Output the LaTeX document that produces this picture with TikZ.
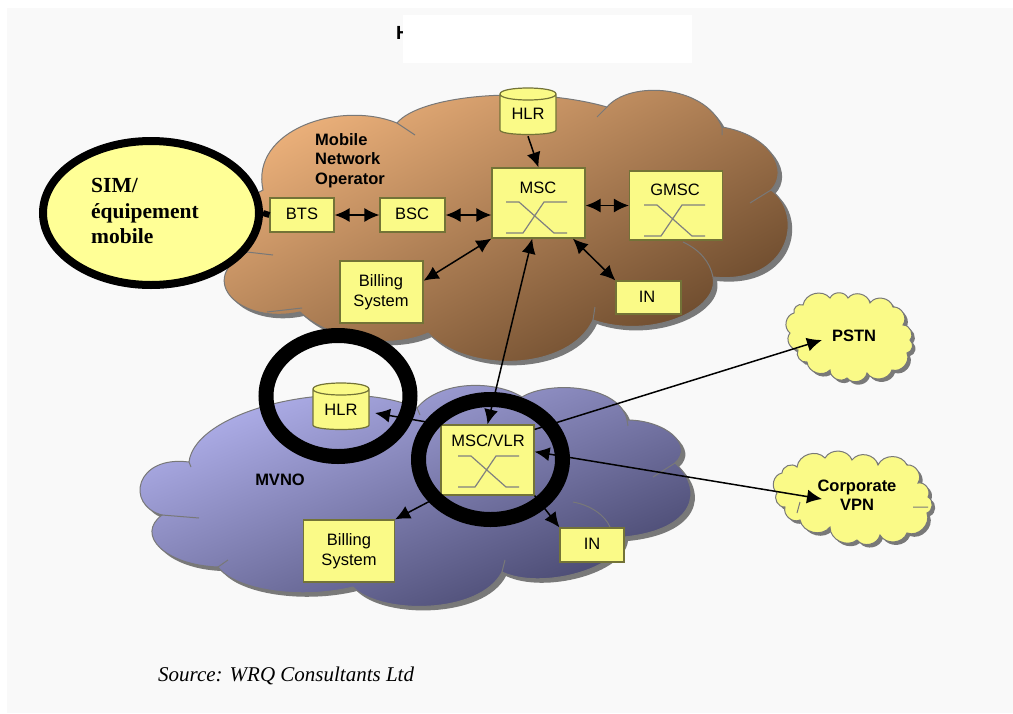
\documentclass[tikz,border=0pt]{standalone}
\usepackage{fontspec}
\setmainfont{Liberation Sans}
\newfontfamily\serifbody{Liberation Serif}
\usetikzlibrary{arrows.meta,shapes.geometric}
\definecolor{pagegray}{RGB}{249,249,249}
\definecolor{boxyellow}{RGB}{250,250,135}
\definecolor{boxedge}{RGB}{115,115,55}
\definecolor{ellipseyellow}{RGB}{255,255,150}
\definecolor{brownlight}{RGB}{240,180,125}
\definecolor{browndark}{RGB}{100,68,40}
\definecolor{mauvelight}{RGB}{180,180,240}
\definecolor{mauvedark}{RGB}{66,66,104}
\definecolor{edgegray}{RGB}{120,120,120}
\tikzset{
  netbox/.style={draw=boxedge, line width=1.2pt, fill=boxyellow, inner sep=0pt},
  netdb/.style={inner sep=0pt, minimum width=56pt, minimum height=48pt},
  drumline/.style={draw=boxedge, line width=1.2pt, fill=boxyellow},
  boxtext/.style={font=\fontsize{16.5}{20}\selectfont, align=center, inner sep=0pt},
  cloudtext/.style={font=\fontsize{16.5}{19.5}\selectfont\bfseries, align=left, inner sep=0pt},
  link/.style={black, line width=1.5pt, -{Latex[length=15pt,width=14pt]}},
  twolink/.style={black, line width=1.5pt, {Latex[length=15pt,width=14pt]}-{Latex[length=15pt,width=14pt]}},
  ring/.style={ellipse, draw=black, inner sep=0pt},
  switchline/.style={draw=gray, line width=1.2pt},
  cloudedge/.style={draw=edgegray, line width=1pt},
  shadowgray/.style={fill=gray!95!black}
}
\newcommand{\browncloud}{(263,190) .. controls (250,130) and (340,100) .. (397,123)
  .. controls (420,95) and (530,85) .. (607,107) .. controls (630,80) and (705,85) .. (722,127)
  .. controls (770,135) and (790,170) .. (771,190) .. controls (805,215) and (790,285) .. (713,277)
  .. controls (720,310) and (650,340) .. (593,320) .. controls (570,370) and (470,375) .. (428,333)
  .. controls (390,350) and (330,340) .. (300,312) .. controls (240,325) and (195,280) .. (247,252)
  .. controls (240,240) and (240,200) .. (263,190) -- cycle}
\newcommand{\mauvecloud}{(189,462) .. controls (195,410) and (340,375) .. (417,408)
  .. controls (440,380) and (495,380) .. (522,397) .. controls (550,380) and (620,385) .. (627,420)
  .. controls (665,420) and (695,445) .. (675,463) .. controls (705,490) and (695,530) .. (624,537)
  .. controls (620,570) and (540,590) .. (502,572) .. controls (480,615) and (380,615) .. (353,587)
  .. controls (300,600) and (235,590) .. (218,567) .. controls (165,565) and (135,535) .. (162,515)
  .. controls (125,505) and (135,455) .. (189,462) -- cycle}
\newcommand{\pstncloud}{(803,305) to (830,298) to (848,298) to (870,303) to (893,307) to (903,325)
  to (910,340) to (907,353) to (892,370) to (867,373) to (847,378) to (830,370) to (807,362)
  to (798,350) to (790,333) to (794,313) to (803,305) -- cycle}
\newcommand{\vpncloud}{(797,467) to (825,458) to (852,460) to (878,465) to (907,465) to (918,483)
  to (928,497) to (927,513) to (907,533) to (880,535) to (857,540) to (830,527) to (800,520)
  to (785,507) to (777,493) to (782,473) to (797,467) -- cycle}
\newcommand{\switchsym}[1]{\draw[switchline, shift={#1}] (-31,-15) -- (-18,-15) -- (17,16) -- (30,16)
  (-31,16) -- (-14,16) -- (7,-15) -- (30,-15);}
\newcommand{\dbdrum}[1]{\filldraw[drumline, shift={#1}] (-28,-18) -- (-28,18) .. controls (-28,24) and (28,24) .. (28,18)
  -- (28,-18) .. controls (28,-26) and (-28,-26) .. (-28,-18) -- cycle
  (-28,-18) .. controls (-28,-10) and (28,-10) .. (28,-18);}
\begin{document}
\begin{tikzpicture}[x=1pt, y=-1pt]
  \useasboundingbox (0,0) rectangle (1013,713);
  \fill[white] (0,0) rectangle (1013,713);
  \fill[pagegray] (7,8) rectangle (1013,713);
  \node[font=\fontsize{19}{20}\selectfont\bfseries, anchor=west, inner sep=0pt] (titlecut) at (396,33) {H};
  \fill[white] (403,15) rectangle (692,63);

  \fill[shadowgray, shift={(4,4)}] \browncloud;
  \shade[cloudedge, top color=brownlight, bottom color=browndark, shading angle=28] \browncloud;
  \draw[cloudedge] (397,123) -- (415,135) (607,107) -- (597,117) (722,127) -- (722,135) (771,190) -- (750,203);
  \draw[cloudedge] (683,242) .. controls (700,250) and (710,262) .. (713,277);
  \draw[cloudedge] (595,307) -- (593,320) (267,312) -- (302,308) (247,252) -- (273,255);

  \fill[shadowgray, shift={(4,4)}] \mauvecloud;
  \shade[cloudedge, top color=mauvelight, bottom color=mauvedark, shading angle=22] \mauvecloud;
  \draw[cloudedge] (189,462) -- (191,467) (417,408) -- (420,415) (627,420) -- (628,426) (675,463) -- (653,477);
  \draw[cloudedge] (573,502) .. controls (590,505) and (605,515) .. (610,527);
  \draw[cloudedge] (505,560) -- (502,572) (218,567) -- (228,560) (162,515) -- (199,518);

  \begin{scope}[every to/.style={bend left=65, looseness=1.1}]
    \fill[shadowgray, shift={(3,3)}] \pstncloud;
    \filldraw[cloudedge, fill=boxyellow] \pstncloud;
    \fill[shadowgray, shift={(3,3)}] \vpncloud;
    \filldraw[cloudedge, fill=boxyellow] \vpncloud;
  \end{scope}
  \draw[cloudedge] (797,513) -- (800,502) (913,507) -- (928,507);

  \node[netbox, minimum width=64pt, minimum height=34pt] (bts) at (302,215) {};
  \node[netbox, minimum width=65pt, minimum height=34pt] (bsc) at (412.5,215) {};
  \node[netbox, minimum width=93pt, minimum height=70pt] (msc) at (538.5,203) {};
  \node[netbox, minimum width=93pt, minimum height=69pt] (gmsc) at (676,205.5) {};
  \node[netbox, minimum width=65pt, minimum height=33pt] (inmno) at (648.5,297.5) {};
  \node[netbox, minimum width=83pt, minimum height=62pt] (billmno) at (381.5,292) {};
  \node[netdb] (hlrmno) at (528,112) {};
  \node[netbox, minimum width=93pt, minimum height=70pt] (vlr) at (487.5,460) {};
  \node[netbox, minimum width=91pt, minimum height=62pt] (billmv) at (349,551) {};
  \node[netbox, minimum width=64pt, minimum height=34pt] (inmv) at (592,545) {};
  \node[netdb] (hlrmv) at (341,407) {};

  \dbdrum{(528,112)}
  \dbdrum{(341,407)}
  \switchsym{(537,217)}
  \switchsym{(675,220)}
  \switchsym{(489,471)}

  \node[boxtext] (btstext) at (302,214) {BTS};
  \node[boxtext] (bsctext) at (412,214) {BSC};
  \node[boxtext] (msctext) at (538,188) {MSC};
  \node[boxtext] (gmsctext) at (675,190) {GMSC};
  \node[boxtext] (inmnotext) at (647,297) {IN};
  \node[boxtext] (billmnotext) at (381,292) {Billing\\System};
  \node[boxtext] (hlrmnotext) at (528,114) {HLR};
  \node[boxtext] (vlrtext) at (488,441) {MSC/VLR};
  \node[boxtext] (billmvtext) at (349,551) {Billing\\System};
  \node[boxtext] (inmvtext) at (592,544) {IN};
  \node[boxtext] (hlrmvtext) at (341,410) {HLR};

  \node[cloudtext, anchor=north west] (mnotext) at (315,133) {Mobile\\Network\\Operator};
  \node[cloudtext] (mvnotext) at (280,480) {MVNO};
  \node[cloudtext] (pstntext) at (854,336) {PSTN};
  \node[cloudtext, align=center] (vpntext) at (857,495) {Corporate\\VPN};

  \coordinate (pstntip) at (822,340);
  \coordinate (vpntip) at (822,499);
  \coordinate (hlrmvtip) at (375,413);
  \draw[link] (hlrmno.south) -- (msc.north);
  \draw[twolink] (bts.east) -- (bsc.west);
  \draw[twolink] (bsc.east) -- (bsc.east -| msc.west);
  \draw[twolink] (msc.east |- gmsc.west) -- (gmsc.west);
  \draw[twolink] (billmno.15) -- (msc.south west);
  \draw[twolink] (msc.-46) -- (inmno.north west);
  \draw[twolink] (msc.-100) -- (vlr.north);
  \draw[link] (vlr.north west) -- (hlrmvtip);
  \draw[link] (vlr.33) -- (pstntip);
  \draw[twolink] (vlr.10) -- (vpntip);
  \draw[link] (vlr.south west) -- (billmv.north east);
  \draw[link] (vlr.south east) -- (inmv.north west);

  \node[ring, line width=8pt, fill=ellipseyellow, minimum width=216pt, minimum height=144pt] (sim) at (151,213) {};
  \draw[black, line width=6pt] (sim.east) -- (bts.west);
  \node[ring, line width=15pt, minimum width=144pt, minimum height=121pt] (ringhlr) at (338,396) {};
  \node[ring, line width=15pt, minimum width=144pt, minimum height=120pt] (ringvlr) at (490.5,459.5) {};

  \node[font=\fontsize{21.5}{25.5}\selectfont\serifbody\bfseries, align=left, anchor=west, inner sep=0pt] (simtext) at (91,211) {SIM/\\équipement\\mobile};
  \node[font=\fontsize{21}{22}\selectfont\serifbody\itshape, anchor=west, inner sep=0pt] (source) at (158,676) {Source: WRQ Consultants Ltd};
\end{tikzpicture}
\end{document}
